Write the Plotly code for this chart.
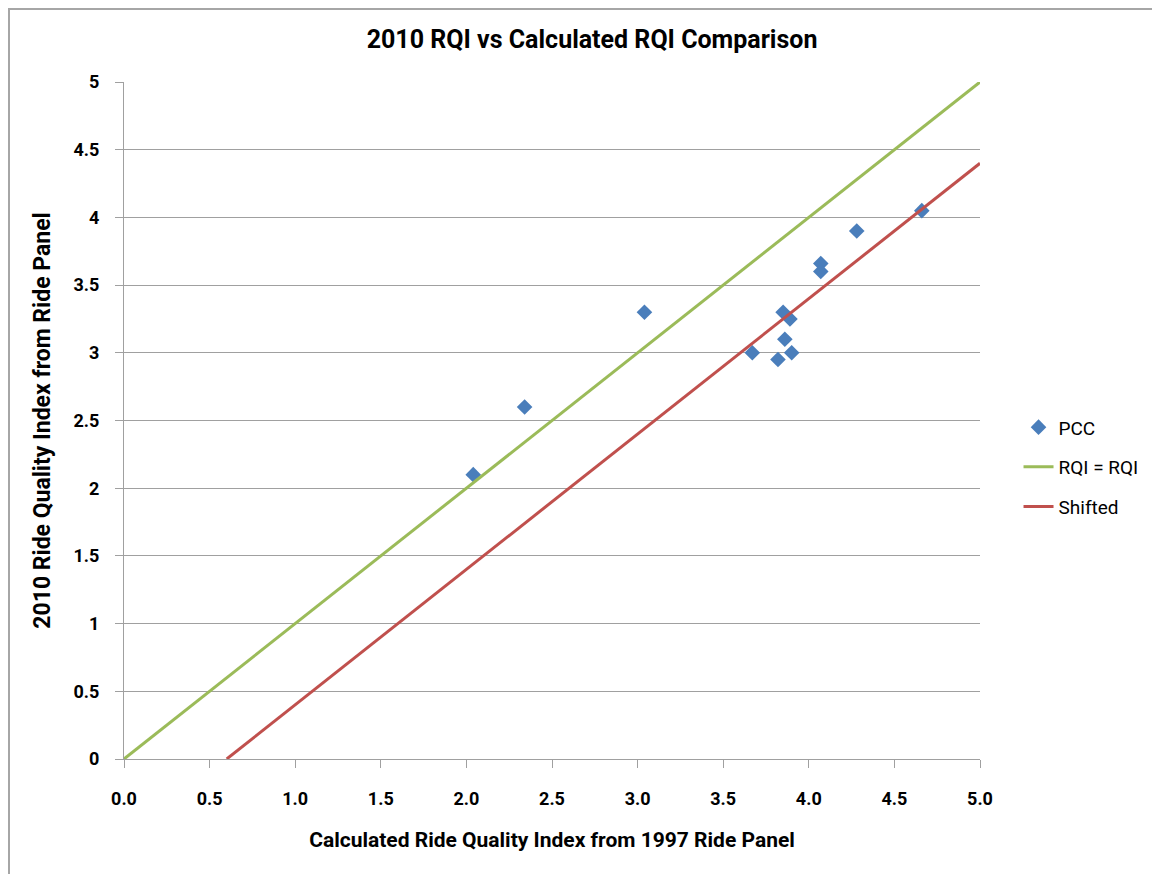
import plotly.graph_objects as go

# PCC data
pcc_x = [2.04, 2.34, 3.04, 3.67, 3.82, 3.85, 3.86, 3.89, 3.90, 4.07, 4.07, 4.28, 4.66]
pcc_y = [2.10, 2.60, 3.30, 3.00, 2.95, 3.30, 3.10, 3.25, 3.00, 3.66, 3.60, 3.90, 4.05]

# Reference line RQI = RQI
eq_x = [0.0, 5.0]
eq_y = [0.0, 5.0]

# Shifted line
sh_x = [0.6, 5.0]
sh_y = [0.0, 4.4]

FONT = "Roboto, sans-serif"

fig = go.Figure()
fig.add_trace(go.Scatter(x=pcc_x, y=pcc_y, mode="markers", name="PCC", legendgroup="a",
                         marker=dict(symbol="diamond", size=12, color="#4A7EBB")))
fig.add_trace(go.Scatter(x=eq_x, y=eq_y, mode="lines", name="RQI = RQI", legendgroup="b",
                         line=dict(color="#9BBB59", width=3)))
fig.add_trace(go.Scatter(x=sh_x, y=sh_y, mode="lines", name="Shifted", legendgroup="c",
                         line=dict(color="#C0504D", width=3)))

L, T = 116, 74
PW, PH = 856, 677
fig.update_layout(
    width=1152, height=866,
    paper_bgcolor="white", plot_bgcolor="white",
    margin=dict(l=L, r=1152 - L - PW, t=T, b=866 - T - PH),
    font=dict(family=FONT, color="black", size=18),
    title=dict(text="<b>2010 RQI vs Calculated RQI Comparison</b>", x=0.507, xref="container",
               xanchor="center", y=0.964, yref="container", yanchor="middle",
               font=dict(size=25, family=FONT)),
    showlegend=True,
    legend=dict(x=1.045, xanchor="left", y=0.518, yanchor="top", tracegroupgap=12,
                font=dict(size=19, family=FONT), bgcolor="rgba(0,0,0,0)"),
    shapes=[dict(type="rect", xref="paper", yref="paper",
                 x0=-(L - 1) / PW, x1=1.5, y0=-0.5, y1=1 + (T - 1) / PH,
                 line=dict(color="#A6A6A6", width=2), fillcolor="rgba(0,0,0,0)", layer="below")],
)

fig.update_xaxes(
    range=[0, 5], dtick=0.5, tick0=0, tickformat=".1f",
    showgrid=False, zeroline=False,
    showline=True, linecolor="#A0A0A0", linewidth=1,
    ticks="outside", ticklen=8, tickcolor="#A0A0A0", ticklabelstandoff=15,
    tickfont=dict(size=18, family=FONT),
    title=dict(text="<b>Calculated Ride Quality Index from 1997 Ride Panel</b>", standoff=24,
               font=dict(size=21, family=FONT)),
    fixedrange=True,
)
fig.update_yaxes(
    range=[0, 5], dtick=0.5, tick0=0,
    showgrid=True, gridcolor="#A0A0A0", gridwidth=1, zeroline=False,
    showline=True, linecolor="#A0A0A0", linewidth=1, mirror=False,
    ticks="outside", ticklen=8, tickcolor="#A0A0A0", ticklabelstandoff=12,
    tickfont=dict(size=18, family=FONT),
    title=dict(text="<b>2010 Ride Quality Index from Ride Panel</b>", standoff=16,
               font=dict(size=23, family=FONT)),
    fixedrange=True,
)
fig.update_xaxes(tickprefix="<b>", ticksuffix="</b>")
fig.update_yaxes(tickprefix="<b>", ticksuffix="</b>")

fig.write_html("out.html")
